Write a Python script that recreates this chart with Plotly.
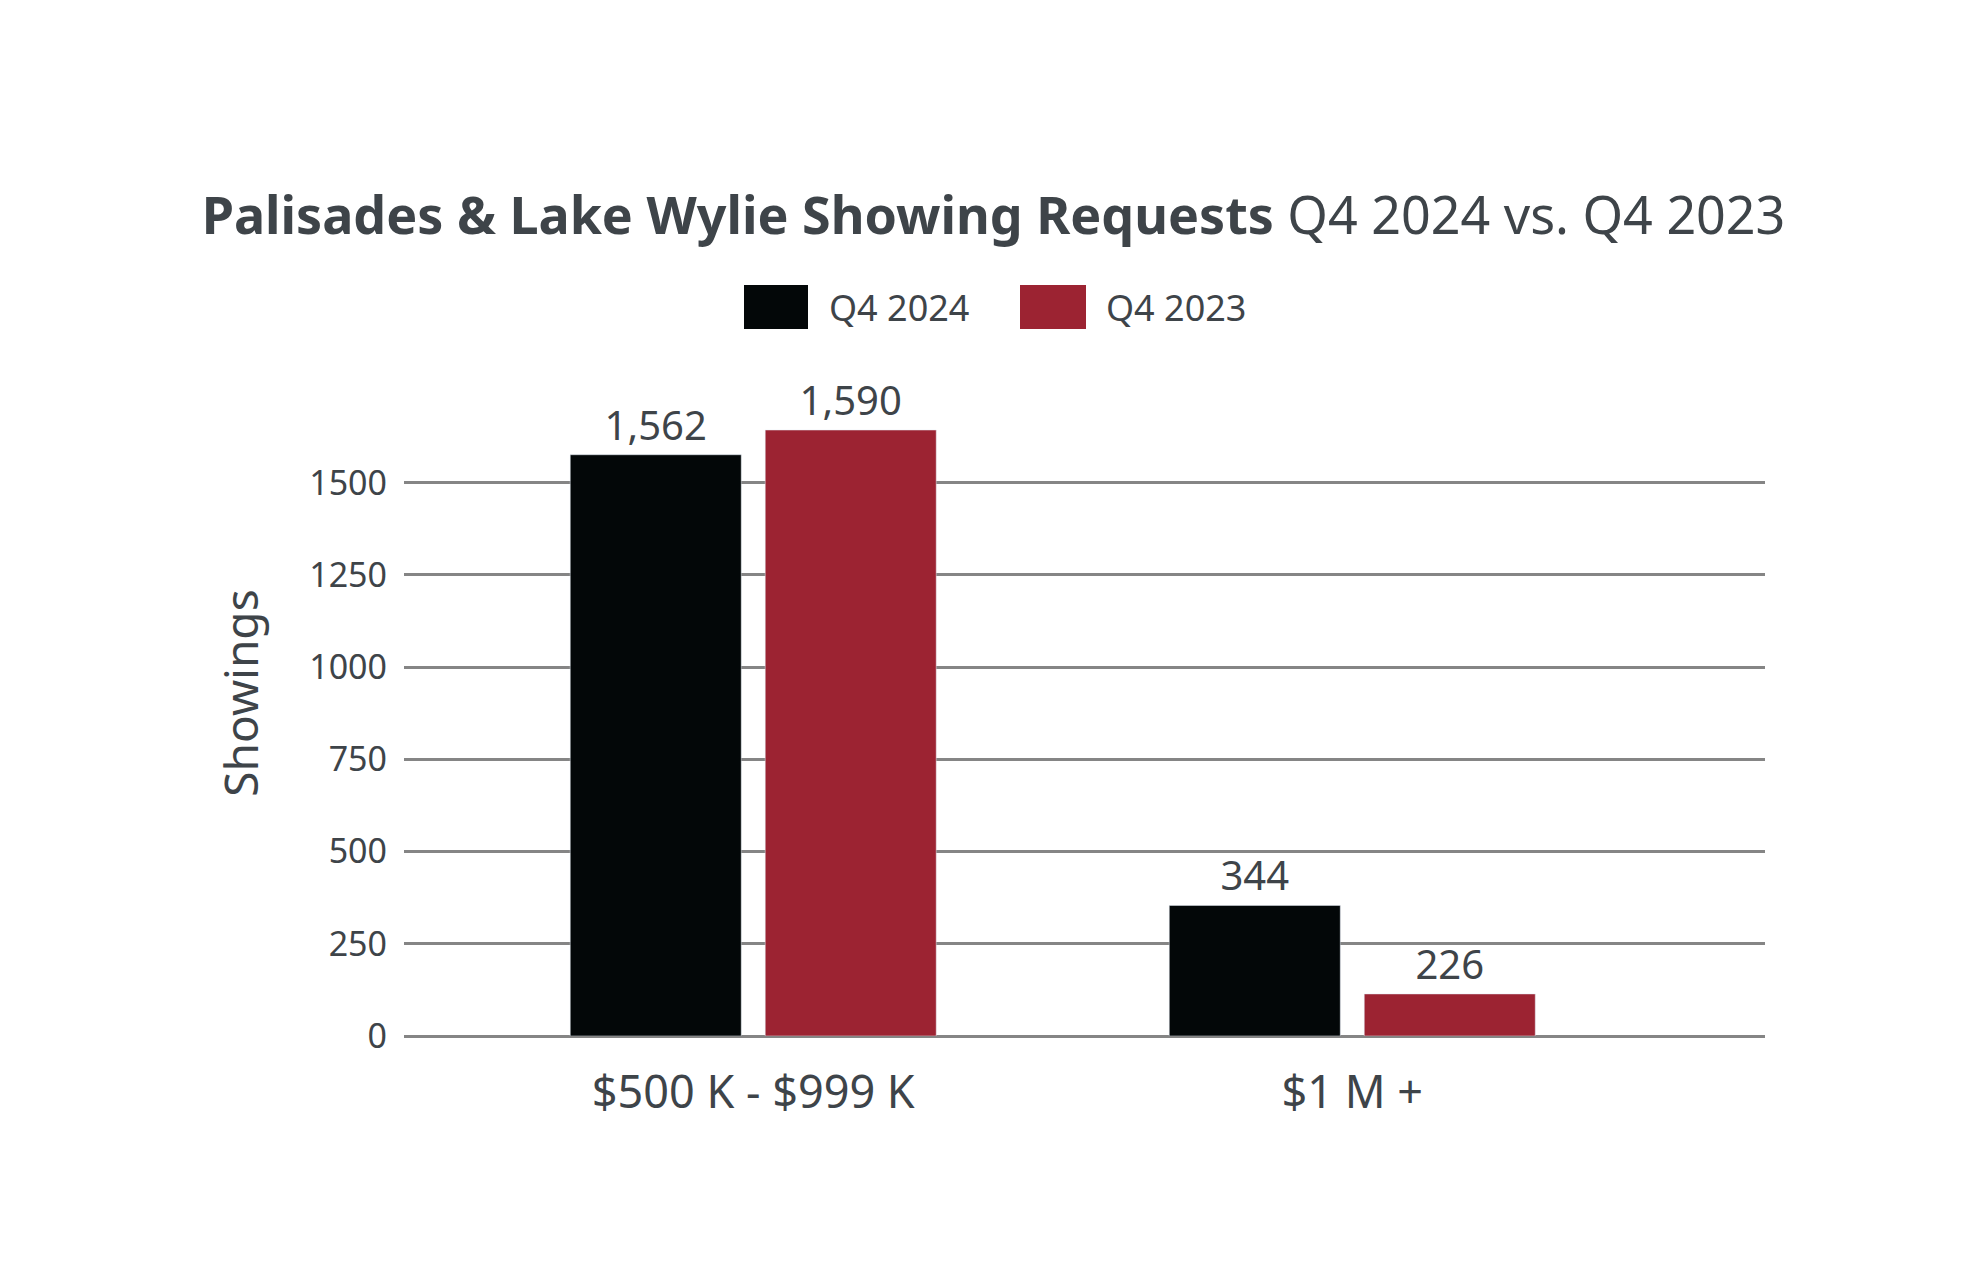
import plotly.graph_objects as go

categories = ["$500 K - $999 K", "$1 M +"]
series_names = ["Q4 2024", "Q4 2023"]
# bar heights as drawn in the picture
q4_2024 = [1576, 354]
q4_2023 = [1643, 114]
# value labels printed above the bars
q4_2024_labels = ["1,562", "344"]
q4_2023_labels = ["1,590", "226"]
y_ticks = [0, 250, 500, 750, 1000, 1250, 1500]

BLACK = "#030708"
RED = "#9C2332"
TEXT = "#3E4449"
GRID = "#858585"
FONT = "Noto Sans"

W, H = 1987, 1268
L, R, T, B = 404, 222, 350, 232
pw, ph = W - L - R, H - T - B

def px(x):
    return (x - L) / pw

def py(y):
    return (H - B - y) / ph

fig = go.Figure()
fig.add_trace(go.Bar(x=[0, 1], y=q4_2024, name=series_names[0], marker_color=BLACK,
                     text=q4_2024_labels, textposition="outside", cliponaxis=False,
                     textfont=dict(size=40, color=TEXT, family=FONT), showlegend=False))
fig.add_trace(go.Bar(x=[0, 1], y=q4_2023, name=series_names[1], marker_color=RED,
                     text=q4_2023_labels, textposition="outside", cliponaxis=False,
                     textfont=dict(size=40, color=TEXT, family=FONT), showlegend=False))

fig.update_layout(
    width=W, height=H,
    margin=dict(l=L, r=R, t=T, b=B),
    paper_bgcolor="white", plot_bgcolor="white",
    barmode="group", bargap=0.349, bargroupgap=0.123,
    font=dict(family=FONT, color=TEXT),
    title=dict(text="<b>Palisades & Lake Wylie Showing Requests</b> Q4 2024 vs. Q4 2023",
               x=0.5, xanchor="center", y=1 - 216 / H, yanchor="middle",
               font=dict(size=52, color=TEXT, family=FONT)),
    xaxis=dict(tickmode="array", tickvals=[0, 1], ticktext=categories,
               range=[-0.583, 1.689], showgrid=False, zeroline=False, showline=False,
               tickfont=dict(size=45, color=TEXT), ticklabelstandoff=26),
    yaxis=dict(range=[0, 1860], tickvals=y_ticks, showgrid=True, gridcolor=GRID, gridwidth=2.5,
               zeroline=True, zerolinecolor=GRID, zerolinewidth=2.5, showline=False,
               tickfont=dict(size=34, color=TEXT), ticklabelstandoff=16,
               title=dict(text="Showings", font=dict(size=46, color=TEXT), standoff=36)),
    showlegend=False,
)

# custom legend (large square swatches)
legend_items = [(series_names[0], BLACK, 744, 808, 827), (series_names[1], RED, 1020, 1086, 1104)]
for name, color, x0, x1, tx in legend_items:
    fig.add_shape(type="rect", xref="paper", yref="paper", x0=px(x0), x1=px(x1),
                  y0=py(329), y1=py(285), fillcolor=color, line=dict(width=0))
    fig.add_annotation(text=name, xref="paper", yref="paper", x=px(tx), y=py(307),
                       xanchor="left", yanchor="middle", showarrow=False,
                       font=dict(size=36, color=TEXT, family=FONT))

fig.write_html("out.html", config={"displayModeBar": False},
               post_script="document.body.style.margin='0';")
